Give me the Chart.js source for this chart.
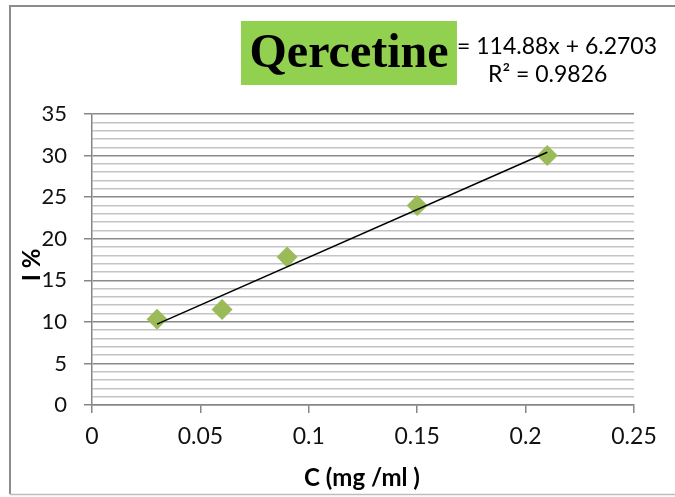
<!DOCTYPE html>
<html>
<head>
<meta charset="utf-8">
<script src="https://cdn.jsdelivr.net/npm/chart.js"></script>
<style>
  html, body { margin: 0; padding: 0; background: #fff; }
  #wrap { width: 675px; height: 497px; }
</style>
</head>
<body>
<div id="wrap"><canvas id="chart" width="675" height="497"></canvas></div>
<script>
// Values
const concentrations = [0.03, 0.06, 0.09, 0.15, 0.21];
const inhibition = [10.3, 11.5, 17.8, 24.0, 30.0];
// Linear trendline end points (y = 114.88x + 6.2703)
const trendX = [0.03, 0.21];
const trendY = [9.72, 30.40];
const xTicks = [0, 0.05, 0.1, 0.15, 0.2, 0.25];
const chartTitle = 'Qercetine';
const equationText = '= 114.88x + 6.2703';
const r2Text = 'R² = 0.9826';
const xAxisTitle = 'C (mg /ml )';
const yAxisTitle = 'I %';

const labelFont = 'Lato, "Open Sans", sans-serif';

// Draws the outer frame, green title box, equation and axis titles
const decorPlugin = {
  id: 'decor',
  beforeDraw(chart) {
    const ctx = chart.ctx;
    ctx.save();
    ctx.strokeStyle = '#8c8c8c';
    ctx.lineWidth = 2;
    ctx.beginPath();
    ctx.moveTo(10, 494);
    ctx.lineTo(10, 6);
    ctx.lineTo(680, 6);
    ctx.stroke();
    ctx.strokeStyle = '#bdbdbd';
    ctx.lineWidth = 1.5;
    ctx.beginPath();
    ctx.moveTo(10, 494.5);
    ctx.lineTo(680, 494.5);
    ctx.stroke();
    ctx.restore();
  },
  afterDraw(chart) {
    const ctx = chart.ctx;
    ctx.save();
    // equation text (partly covered by the title box, as in the original)
    ctx.fillStyle = '#000';
    ctx.font = '23px ' + labelFont;
    ctx.textBaseline = 'middle';
    ctx.textAlign = 'left';
    ctx.fillText(equationText, 457, 47);
    ctx.fillText(r2Text, 488, 75);

    // green title box
    ctx.fillStyle = '#92d050';
    ctx.fillRect(241, 21, 216, 64);
    ctx.fillStyle = '#000';
    ctx.font = 'bold 48px "Liberation Serif", "DejaVu Serif", serif';
    ctx.textAlign = 'center';
    ctx.fillText(chartTitle, 349, 55);

    // axis titles
    ctx.font = 'bold 24px ' + labelFont;
    ctx.fillText(xAxisTitle, 362, 478);
    ctx.translate(32, 265);
    ctx.rotate(-Math.PI / 2);
    ctx.fillText(yAxisTitle, 0, 0);
    ctx.restore();
  }
};

const points = concentrations.map((c, i) => ({ x: c, y: inhibition[i] }));
const trend = trendX.map((c, i) => ({ x: c, y: trendY[i] }));

new Chart(document.getElementById('chart'), {
  type: 'scatter',
  data: {
    datasets: [
      {
        label: 'Inhibition',
        data: points,
        pointStyle: 'rectRot',
        pointRadius: 10.5,
        pointHoverRadius: 10.5,
        backgroundColor: '#9bbb59',
        borderColor: '#9bbb59',
        borderWidth: 0,
        order: 2
      },
      {
        label: 'Linear',
        type: 'line',
        data: trend,
        borderColor: '#000',
        borderWidth: 1.5,
        pointRadius: 0,
        fill: false,
        order: 1
      }
    ]
  },
  options: {
    responsive: false,
    animation: false,
    layout: { padding: { left: 0, top: 114, right: 41, bottom: 0 } },
    plugins: {
      legend: { display: false },
      tooltip: { enabled: false }
    },
    scales: {
      x: {
        type: 'linear',
        min: 0,
        max: 0.25,
        afterFit(scale) { scale.height = 92; },
        afterBuildTicks(scale) { scale.ticks = xTicks.map(v => ({ value: v })); },
        border: { display: true, color: '#868686', width: 1.5 },
        grid: {
          drawOnChartArea: false,
          drawTicks: true,
          tickLength: 8,
          tickColor: '#868686',
          lineWidth: 1.5
        },
        ticks: {
          padding: 10,
          color: '#111',
          font: { family: labelFont, size: 23 },
          callback: v => String(v)
        }
      },
      y: {
        type: 'linear',
        min: 0,
        max: 35,
        afterFit(scale) { scale.width = 92; },
        border: { display: true, color: '#868686', width: 1.5 },
        grid: {
          drawTicks: true,
          tickLength: 8,
          color: ctx => (ctx.tick && ctx.tick.value % 5 === 0) ? '#8a8a8a' : '#c4c4c4',
          lineWidth: 1.5,
          tickColor: ctx => (ctx.tick && ctx.tick.value % 5 === 0) ? '#868686' : 'rgba(0,0,0,0)'
        },
        ticks: {
          stepSize: 1,
          autoSkip: false,
          padding: 17,
          color: '#111',
          font: { family: labelFont, size: 22 },
          callback: v => (v % 5 === 0 ? String(v) : '')
        }
      }
    }
  },
  plugins: [decorPlugin]
});
</script>
</body>
</html>
